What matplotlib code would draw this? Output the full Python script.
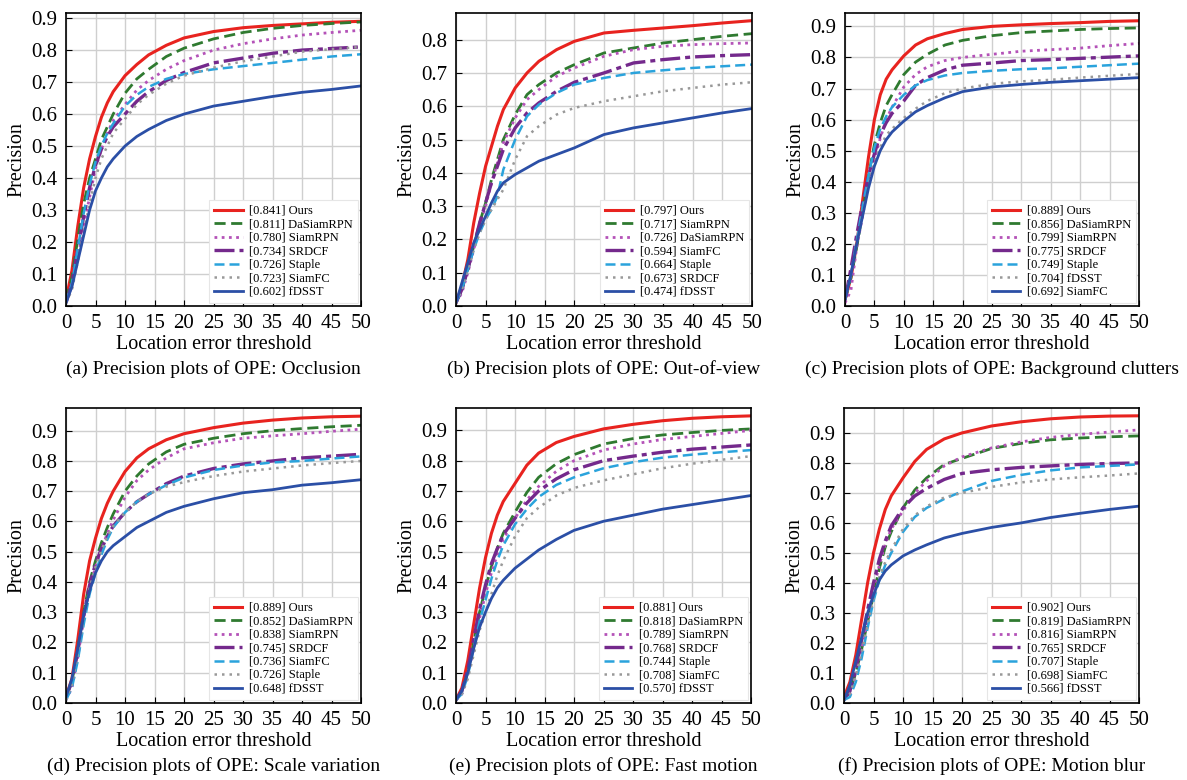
import matplotlib
matplotlib.use("Agg")
import matplotlib.pyplot as plt

plt.rcParams['font.family'] = ['Liberation Serif', 'DejaVu Serif']

W, H = 1187, 780

thr = [0, 1, 2, 3, 4, 5, 6, 7, 8, 10, 12, 14, 17, 20, 25, 30, 35, 40, 45, 50]

# (a) Occlusion
occ_names = ["[0.841] Ours", "[0.811] DaSiamRPN", "[0.780] SiamRPN", "[0.734] SRDCF",
             "[0.726] Staple", "[0.723] SiamFC", "[0.602] fDSST"]
occ_vals = [
    [0.02, 0.11, 0.25, 0.37, 0.46, 0.53, 0.59, 0.635, 0.67, 0.72, 0.755, 0.785, 0.815, 0.838, 0.858, 0.87, 0.877, 0.882, 0.887, 0.89],
    [0.02, 0.09, 0.21, 0.32, 0.40, 0.46, 0.52, 0.56, 0.60, 0.665, 0.71, 0.74, 0.78, 0.806, 0.835, 0.855, 0.868, 0.877, 0.883, 0.888],
    [0.01, 0.06, 0.15, 0.25, 0.34, 0.43, 0.49, 0.54, 0.58, 0.63, 0.675, 0.705, 0.74, 0.767, 0.80, 0.82, 0.835, 0.847, 0.855, 0.862],
    [0.01, 0.07, 0.18, 0.28, 0.37, 0.44, 0.49, 0.53, 0.56, 0.60, 0.64, 0.67, 0.705, 0.73, 0.76, 0.775, 0.79, 0.80, 0.805, 0.81],
    [0.01, 0.07, 0.18, 0.29, 0.38, 0.45, 0.50, 0.54, 0.57, 0.625, 0.66, 0.685, 0.71, 0.725, 0.74, 0.75, 0.76, 0.77, 0.78, 0.787],
    [0.01, 0.05, 0.14, 0.23, 0.32, 0.40, 0.46, 0.50, 0.54, 0.585, 0.63, 0.66, 0.695, 0.72, 0.745, 0.765, 0.78, 0.795, 0.803, 0.81],
    [0.01, 0.06, 0.14, 0.22, 0.30, 0.36, 0.40, 0.435, 0.46, 0.50, 0.53, 0.552, 0.58, 0.60, 0.625, 0.64, 0.655, 0.668, 0.677, 0.688],
]

# (b) Out-of-view
oov_names = ["[0.797] Ours", "[0.717] SiamRPN", "[0.726] DaSiamRPN", "[0.594] SiamFC",
             "[0.664] Staple", "[0.673] SRDCF", "[0.474] fDSST"]
oov_vals = [
    [0.01, 0.06, 0.14, 0.25, 0.34, 0.42, 0.48, 0.54, 0.59, 0.655, 0.70, 0.735, 0.77, 0.795, 0.82, 0.828, 0.835, 0.842, 0.85, 0.857],
    [0.01, 0.05, 0.11, 0.18, 0.25, 0.31, 0.38, 0.44, 0.50, 0.575, 0.635, 0.665, 0.70, 0.725, 0.76, 0.775, 0.79, 0.80, 0.81, 0.818],
    [0.01, 0.04, 0.10, 0.17, 0.24, 0.30, 0.37, 0.43, 0.49, 0.565, 0.62, 0.65, 0.69, 0.715, 0.75, 0.77, 0.78, 0.785, 0.788, 0.79],
    [0.01, 0.05, 0.11, 0.18, 0.25, 0.31, 0.37, 0.42, 0.47, 0.535, 0.58, 0.61, 0.645, 0.672, 0.70, 0.73, 0.74, 0.748, 0.752, 0.755],
    [0.01, 0.05, 0.11, 0.17, 0.22, 0.26, 0.29, 0.33, 0.41, 0.50, 0.57, 0.605, 0.64, 0.665, 0.685, 0.70, 0.708, 0.715, 0.72, 0.725],
    [0.01, 0.05, 0.11, 0.17, 0.22, 0.26, 0.29, 0.32, 0.35, 0.44, 0.51, 0.54, 0.575, 0.595, 0.615, 0.63, 0.645, 0.655, 0.665, 0.672],
    [0.01, 0.07, 0.13, 0.19, 0.23, 0.27, 0.31, 0.345, 0.37, 0.395, 0.415, 0.435, 0.455, 0.475, 0.515, 0.535, 0.55, 0.565, 0.58, 0.593],
]

# (c) Background clutters
bc_names = ["[0.889] Ours", "[0.856] DaSiamRPN", "[0.799] SiamRPN", "[0.775] SRDCF",
            "[0.749] Staple", "[0.704] fDSST", "[0.692] SiamFC"]
bc_vals = [
    [0.02, 0.09, 0.20, 0.34, 0.48, 0.60, 0.68, 0.73, 0.76, 0.805, 0.84, 0.86, 0.877, 0.89, 0.90, 0.905, 0.909, 0.912, 0.916, 0.918],
    [0.02, 0.09, 0.19, 0.30, 0.42, 0.52, 0.59, 0.645, 0.68, 0.745, 0.785, 0.81, 0.84, 0.855, 0.87, 0.88, 0.885, 0.89, 0.893, 0.895],
    [0.01, 0.05, 0.19, 0.29, 0.40, 0.47, 0.54, 0.60, 0.64, 0.705, 0.745, 0.77, 0.79, 0.80, 0.81, 0.82, 0.825, 0.83, 0.838, 0.845],
    [0.02, 0.12, 0.23, 0.33, 0.42, 0.49, 0.55, 0.59, 0.62, 0.66, 0.71, 0.735, 0.76, 0.775, 0.782, 0.79, 0.793, 0.797, 0.801, 0.805],
    [0.02, 0.10, 0.21, 0.32, 0.42, 0.51, 0.57, 0.61, 0.64, 0.68, 0.71, 0.727, 0.742, 0.75, 0.757, 0.762, 0.765, 0.77, 0.775, 0.78],
    [0.02, 0.10, 0.20, 0.30, 0.39, 0.46, 0.51, 0.55, 0.57, 0.605, 0.635, 0.66, 0.685, 0.70, 0.715, 0.723, 0.728, 0.735, 0.741, 0.747],
    [0.02, 0.10, 0.20, 0.29, 0.38, 0.45, 0.50, 0.535, 0.56, 0.595, 0.625, 0.645, 0.67, 0.69, 0.705, 0.713, 0.72, 0.725, 0.73, 0.735],
]

# (d) Scale variation
sv_names = ["[0.889] Ours", "[0.852] DaSiamRPN", "[0.838] SiamRPN", "[0.745] SRDCF",
            "[0.736] SiamFC", "[0.726] Staple", "[0.648] fDSST"]
sv_vals = [
    [0.02, 0.08, 0.21, 0.36, 0.47, 0.545, 0.61, 0.66, 0.70, 0.765, 0.81, 0.84, 0.87, 0.89, 0.91, 0.925, 0.935, 0.942, 0.946, 0.948],
    [0.02, 0.07, 0.18, 0.30, 0.40, 0.47, 0.53, 0.58, 0.625, 0.70, 0.75, 0.79, 0.83, 0.855, 0.875, 0.89, 0.90, 0.907, 0.913, 0.918],
    [0.01, 0.05, 0.15, 0.28, 0.38, 0.45, 0.51, 0.56, 0.605, 0.68, 0.735, 0.77, 0.81, 0.84, 0.86, 0.875, 0.883, 0.89, 0.898, 0.905],
    [0.02, 0.07, 0.17, 0.29, 0.39, 0.46, 0.51, 0.55, 0.585, 0.63, 0.665, 0.69, 0.725, 0.75, 0.775, 0.79, 0.80, 0.81, 0.816, 0.822],
    [0.01, 0.05, 0.14, 0.26, 0.36, 0.43, 0.49, 0.54, 0.58, 0.63, 0.665, 0.69, 0.72, 0.745, 0.77, 0.785, 0.795, 0.80, 0.808, 0.815],
    [0.01, 0.06, 0.16, 0.28, 0.38, 0.45, 0.505, 0.55, 0.585, 0.63, 0.665, 0.69, 0.715, 0.73, 0.75, 0.765, 0.775, 0.785, 0.793, 0.80],
    [0.02, 0.08, 0.18, 0.29, 0.37, 0.43, 0.47, 0.50, 0.52, 0.55, 0.58, 0.60, 0.63, 0.65, 0.675, 0.695, 0.705, 0.72, 0.728, 0.738],
]

# (e) Fast motion
fm_names = ["[0.881] Ours", "[0.818] DaSiamRPN", "[0.789] SiamRPN", "[0.768] SRDCF",
            "[0.744] Staple", "[0.708] SiamFC", "[0.570] fDSST"]
fm_vals = [
    [0.01, 0.05, 0.14, 0.26, 0.38, 0.48, 0.56, 0.62, 0.665, 0.725, 0.785, 0.825, 0.86, 0.88, 0.905, 0.92, 0.932, 0.94, 0.945, 0.948],
    [0.01, 0.04, 0.10, 0.20, 0.30, 0.38, 0.45, 0.51, 0.56, 0.63, 0.695, 0.745, 0.79, 0.82, 0.855, 0.873, 0.885, 0.893, 0.90, 0.905],
    [0.01, 0.03, 0.09, 0.18, 0.28, 0.36, 0.43, 0.49, 0.54, 0.61, 0.67, 0.715, 0.765, 0.80, 0.835, 0.855, 0.87, 0.88, 0.89, 0.90],
    [0.01, 0.04, 0.11, 0.21, 0.31, 0.39, 0.46, 0.51, 0.555, 0.61, 0.66, 0.70, 0.74, 0.77, 0.80, 0.815, 0.828, 0.838, 0.845, 0.852],
    [0.01, 0.03, 0.09, 0.18, 0.27, 0.34, 0.41, 0.47, 0.52, 0.59, 0.64, 0.68, 0.72, 0.745, 0.775, 0.795, 0.81, 0.82, 0.828, 0.835],
    [0.01, 0.03, 0.08, 0.16, 0.24, 0.30, 0.36, 0.42, 0.47, 0.55, 0.61, 0.645, 0.685, 0.71, 0.735, 0.755, 0.775, 0.79, 0.803, 0.815],
    [0.01, 0.04, 0.10, 0.18, 0.25, 0.30, 0.345, 0.38, 0.405, 0.445, 0.475, 0.505, 0.54, 0.57, 0.60, 0.62, 0.64, 0.655, 0.67, 0.685],
]

# (f) Motion blur
mb_names = ["[0.902] Ours", "[0.819] DaSiamRPN", "[0.816] SiamRPN", "[0.765] SRDCF",
            "[0.707] Staple", "[0.698] SiamFC", "[0.566] fDSST"]
mb_vals = [
    [0.02, 0.07, 0.16, 0.28, 0.40, 0.50, 0.58, 0.645, 0.69, 0.75, 0.805, 0.845, 0.88, 0.90, 0.923, 0.937, 0.947, 0.953, 0.956, 0.957],
    [0.01, 0.04, 0.10, 0.18, 0.27, 0.36, 0.45, 0.52, 0.57, 0.65, 0.71, 0.75, 0.795, 0.815, 0.848, 0.865, 0.877, 0.883, 0.887, 0.89],
    [0.01, 0.03, 0.09, 0.18, 0.28, 0.38, 0.46, 0.53, 0.58, 0.64, 0.70, 0.74, 0.79, 0.82, 0.85, 0.87, 0.885, 0.895, 0.903, 0.91],
    [0.01, 0.04, 0.11, 0.21, 0.31, 0.40, 0.48, 0.54, 0.59, 0.65, 0.69, 0.715, 0.745, 0.765, 0.777, 0.785, 0.79, 0.795, 0.798, 0.80],
    [0.01, 0.02, 0.07, 0.15, 0.25, 0.34, 0.41, 0.46, 0.50, 0.57, 0.62, 0.65, 0.68, 0.705, 0.74, 0.76, 0.775, 0.785, 0.79, 0.795],
    [0.01, 0.03, 0.09, 0.17, 0.26, 0.35, 0.42, 0.47, 0.51, 0.58, 0.625, 0.655, 0.685, 0.70, 0.72, 0.735, 0.745, 0.752, 0.758, 0.765],
    [0.01, 0.06, 0.14, 0.22, 0.30, 0.36, 0.41, 0.44, 0.46, 0.49, 0.51, 0.527, 0.55, 0.565, 0.585, 0.60, 0.618, 0.632, 0.645, 0.656],
]

captions = ["(a) Precision plots of OPE: Occlusion",
            "(b) Precision plots of OPE: Out-of-view",
            "(c) Precision plots of OPE: Background clutters",
            "(d) Precision plots of OPE: Scale variation",
            "(e) Precision plots of OPE: Fast motion",
            "(f) Precision plots of OPE: Motion blur"]

# style per legend slot
colors = ['#e8231f', '#2f7a30', '#b452b8', '#74298c', '#2aa3dc', '#999999', '#2b4fa6']
styles = ['-', (0, (4, 2)), (0, (1, 1.6)), (0, (6, 1.5, 1.5, 1.5)), (0, (4, 2)), (0, (1, 2)), '-']
widths = [2.2, 2.0, 2.0, 2.4, 1.8, 1.8, 2.0]

# axes boxes in pixels: left, top, right, bottom ; and y upper limit
boxes = [(66, 13, 361, 306), (456, 13, 752, 306), (845, 13, 1139, 306),
         (66, 408, 361, 703), (456, 408, 751, 703), (844, 408, 1139, 703)]
ytops = [0.916, 0.88, 0.943, 0.975, 0.974, 0.983]

panels = [(occ_names, occ_vals), (oov_names, oov_vals), (bc_names, bc_vals),
          (sv_names, sv_vals), (fm_names, fm_vals), (mb_names, mb_vals)]

fig = plt.figure(figsize=(W / 100, H / 100), dpi=100)

for i, (names, vals) in enumerate(panels):
    l, t, r, b = boxes[i]
    ax = fig.add_axes([l / W, 1 - b / H, (r - l) / W, (b - t) / H])
    for j in range(7):
        ax.plot(thr, vals[j], color=colors[j], linestyle=styles[j], lw=widths[j], label=names[j])
    ax.set_xlim(0, 50)
    ax.set_ylim(0, ytops[i])
    ax.set_xticks(range(0, 51, 5))
    yt = [k / 10 for k in range(10) if k / 10 <= ytops[i]]
    ax.set_yticks(yt)
    ax.set_yticklabels(["%.1f" % v for v in yt])
    ax.grid(color='#cfcfcf', lw=1.0)
    ax.set_axisbelow(True)
    ax.tick_params(direction='in', labelsize=15, length=4, pad=6)
    for s in ax.spines.values():
        s.set_linewidth(1.2)
    ax.set_xlabel("Location error threshold", fontsize=14.5, labelpad=1)
    ax.set_ylabel("Precision", fontsize=14.5, labelpad=4)
    leg = ax.legend(loc='lower right', fontsize=9, labelspacing=0.12, handlelength=2.3,
                    handletextpad=0.5, borderaxespad=0.25, fancybox=False, framealpha=1,
                    edgecolor='#e6e6e6', borderpad=0.4)
    leg.get_frame().set_linewidth(0.8)
    fig.text((l + r) / 2 / W, 1 - (b + 63) / H, captions[i], ha='center', va='center', fontsize=14)

fig.savefig("out.png", dpi=100)
